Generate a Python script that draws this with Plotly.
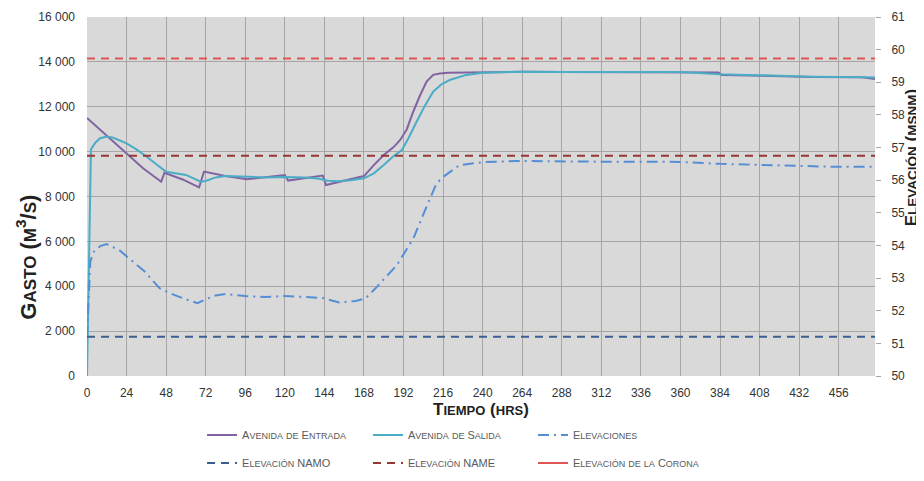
import plotly.graph_objects as go

# ---------------- data ----------------
t_entrada = [0, 6, 12, 18, 24, 34, 45, 47, 58, 68, 71, 84, 97, 108, 120, 122, 132, 143, 145, 153, 160,
             168, 174, 180, 186, 190, 194, 198, 202, 206, 210, 214, 219, 240, 264, 288, 312, 336, 360,
             383, 385, 412, 440, 470, 478]
q_entrada = [11500, 11100, 10740, 10330, 9920, 9260, 8660, 9060, 8760, 8410, 9110, 8910, 8770, 8860,
             8960, 8710, 8800, 8930, 8510, 8660, 8780, 8910, 9400, 9850, 10200, 10520, 11000, 11800,
             12500, 13120, 13420, 13480, 13520, 13550, 13560, 13550, 13540, 13550, 13550, 13530, 13420,
             13370, 13330, 13310, 13240]

t_salida = [0, 2.4, 5, 8, 12, 16, 24, 30, 36, 42, 48, 60, 69, 72, 78, 84, 96, 108, 120, 132, 140, 146,
            152, 160, 168, 174, 180, 186, 191, 195, 200, 205, 210, 215, 220, 230, 240, 264, 288, 312,
            336, 360, 384, 412, 440, 473, 478]
q_salida = [0, 10100, 10400, 10600, 10670, 10620, 10370, 10100, 9780, 9420, 9100, 8960, 8660, 8690,
            8850, 8910, 8880, 8850, 8870, 8850, 8800, 8700, 8680, 8720, 8810, 9030, 9400, 9800, 10070,
            10600, 11340, 12050, 12670, 13000, 13190, 13420, 13520, 13560, 13550, 13540, 13560, 13550,
            13450, 13380, 13340, 13310, 13300]

t_elev = [0, 1, 2, 4, 8, 12, 16, 20, 28, 35, 44, 52, 60, 67, 72, 78, 84, 96, 108, 120, 132, 143, 153,
          163, 169, 176, 188, 198, 206, 212, 216, 226, 240, 260, 300, 336, 360, 384, 412, 453, 478]
elev = [51.2, 52.6, 53.5, 53.8, 53.98, 54.04, 53.95, 53.84, 53.5, 53.2, 52.69, 52.5, 52.35, 52.23,
        52.35, 52.47, 52.51, 52.45, 52.42, 52.45, 52.42, 52.39, 52.25, 52.3, 52.38, 52.74, 53.4, 54.22,
        55.19, 55.9, 56.1, 56.46, 56.55, 56.59, 56.57, 56.56, 56.56, 56.5, 56.46, 56.41, 56.41]

t_range = [0, 478]
elev_namo = 51.2
elev_name = 56.75
elev_corona = 59.73

x_ticks = list(range(0, 457, 24))
y_left_ticks = list(range(0, 16001, 2000))
y_right_ticks = list(range(50, 62))

# ---------------- helpers ----------------
def small_caps(text, small):
    """Upper-case letters stay at base size; others become upper case at a smaller size."""
    html = ""
    buf = ""
    cur_small = None
    for ch in text:
        is_small = ch.isalpha() and not ch.isupper()
        c = ch.upper() if is_small else ch
        if cur_small is not None and is_small != cur_small and buf:
            html += f"<span style='font-size:{small}px'>{buf}</span>" if cur_small else buf
            buf = ""
        cur_small = is_small
        buf += c
    if buf:
        html += f"<span style='font-size:{small}px'>{buf}</span>" if cur_small else buf
    return html

FONT = "Liberation Sans, Arial, sans-serif"
LEG_BIG, LEG_SMALL = 11, 9

c_entrada = "#8064A2"
c_salida = "#4BACC6"
c_elev = "#558ED5"
c_namo = "#3A5F8F"
c_name = "#953735"
c_corona = "#DD5555"

fig = go.Figure()

fig.add_trace(go.Scatter(x=t_entrada, y=q_entrada, mode="lines", name=small_caps("Avenida de Entrada", LEG_SMALL),
                         line=dict(color=c_entrada, width=2), legend="legend"))
fig.add_trace(go.Scatter(x=t_salida, y=q_salida, mode="lines", name=small_caps("Avenida de Salida", LEG_SMALL),
                         line=dict(color=c_salida, width=2), legend="legend2"))
fig.add_trace(go.Scatter(x=t_elev, y=elev, mode="lines", name=small_caps("Elevaciones", LEG_SMALL),
                         line=dict(color=c_elev, width=2, dash="11px,5px,2px,5px"), yaxis="y2", legend="legend3"))
fig.add_trace(go.Scatter(x=t_range, y=[elev_namo, elev_namo], mode="lines", name=small_caps("Elevación NAMO", LEG_SMALL),
                         line=dict(color=c_namo, width=2, dash="8px,6px"), yaxis="y2", legend="legend4"))
fig.add_trace(go.Scatter(x=t_range, y=[elev_name, elev_name], mode="lines", name=small_caps("Elevación NAME", LEG_SMALL),
                         line=dict(color=c_name, width=2, dash="8px,6px"), yaxis="y2", legend="legend5"))
fig.add_trace(go.Scatter(x=t_range, y=[elev_corona, elev_corona], mode="lines", showlegend=False,
                         line=dict(color=c_corona, width=2, dash="8px,6px"), yaxis="y2"))
fig.add_trace(go.Scatter(x=[None], y=[None], mode="lines", name=small_caps("Elevación de la Corona", LEG_SMALL),
                         line=dict(color=c_corona, width=2), yaxis="y2", legend="legend6"))

grid_c = "#A6A6A6"
tick_font = dict(family=FONT, size=12, color="#333333")

x_title = "<b>" + small_caps("Tiempo (hrs)", 13) + "</b>"
y_title = "<b>" + small_caps("Gasto (m", 17) + "<sup>3</sup>" + small_caps("/s)", 17) + "</b>"
y2_title = "<b>" + small_caps("Elevación (msnm)", 13.5) + "</b>"


def legend_box(xp, yp):
    return dict(orientation="h", x=xp, xanchor="left", y=yp, yanchor="middle",
                font=dict(family=FONT, size=LEG_BIG, color="#595959"),
                bgcolor="rgba(0,0,0,0)", itemwidth=30)

col_x = [0.146, 0.3566, 0.566]
row_y = [-0.164, -0.242]

# page body has an 8px margin: figure sized to fit the window, plot area at x 87-875, y 17-376
fig.update_layout(
    template="none",
    width=916, height=473,
    margin=dict(l=79, r=49, t=9, b=105, autoexpand=False),
    paper_bgcolor="white",
    plot_bgcolor="#D9D9D9",
    separators=". ",
    font=dict(family=FONT, color="#333333"),
    xaxis=dict(range=t_range, tickvals=x_ticks, showgrid=True, gridcolor=grid_c, gridwidth=1,
               zeroline=False, showline=False, ticks="", tickfont=tick_font, ticklabelstandoff=8,
               automargin=False,
               title=dict(text=x_title, standoff=4, font=dict(family=FONT, size=17, color="#222222"))),
    yaxis=dict(range=[0, 16000], tickvals=y_left_ticks, tickformat=",d", showgrid=True, gridcolor=grid_c,
               gridwidth=1, zeroline=False, showline=False, ticks="", tickfont=tick_font, ticklabelstandoff=11,
               automargin=False),
    yaxis2=dict(range=[50, 61], tickvals=y_right_ticks, overlaying="y", side="right", showgrid=False,
                zeroline=False, showline=False, ticks="outside", ticklen=5, tickcolor="#A6A6A6",
                tickfont=tick_font, automargin=False, ticklabelstandoff=8),
    legend=legend_box(col_x[0], row_y[0]),
    legend2=legend_box(col_x[1], row_y[0]),
    legend3=legend_box(col_x[2], row_y[0]),
    legend4=legend_box(col_x[0], row_y[1]),
    legend5=legend_box(col_x[1], row_y[1]),
    legend6=legend_box(col_x[2], row_y[1]),
    annotations=[
        dict(text=y_title, textangle=-90, xref="paper", yref="paper", x=-0.0768, y=0.331,
             xanchor="center", yanchor="middle", showarrow=False,
             font=dict(family=FONT, size=22, color="#222222")),
        dict(text=y2_title, textangle=-90, xref="paper", yref="paper", x=1.046, y=0.607,
             xanchor="center", yanchor="middle", showarrow=False,
             font=dict(family=FONT, size=17, color="#222222")),
    ],
)

fig.write_html("out.html")
